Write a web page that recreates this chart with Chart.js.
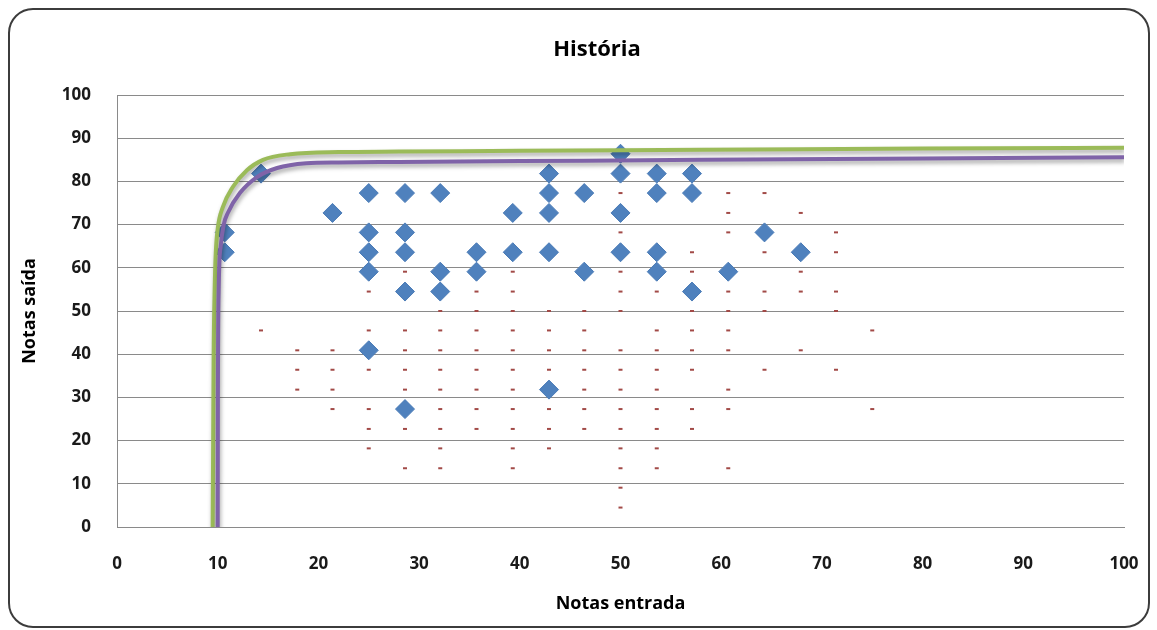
<!DOCTYPE html>
<html>
<head>
<meta charset="utf-8">
<title>História</title>
<script src="https://cdn.jsdelivr.net/npm/chart.js@4/dist/chart.umd.min.js"></script>
<style>
  body { margin: 0; background: #fff; }
  #container { width: 1157px; height: 630px; }
</style>
</head>
<body>
<div id="container"><canvas id="chart" width="1157" height="630"></canvas></div>
<script>
const chartTitle = 'História';

// blue diamonds (Notas entrada, Notas saída)
const diamondX = [10.7, 10.7, 14.3, 21.4, 25, 25, 25, 25, 25,
  28.6, 28.6, 28.6, 28.6, 28.6, 32.1, 32.1, 32.1, 35.7, 35.7,
  39.3, 39.3, 42.9, 42.9, 42.9, 42.9, 42.9, 46.4, 46.4,
  50, 50, 50, 50, 53.6, 53.6, 53.6, 53.6, 57.1, 57.1, 57.1,
  60.7, 64.3, 67.9];
const diamondY = [68.2, 63.6, 81.8, 72.7, 77.3, 68.2, 63.6, 59.1, 40.9,
  77.3, 68.2, 63.6, 54.5, 27.3, 77.3, 59.1, 54.5, 63.6, 59.1,
  72.7, 63.6, 81.8, 77.3, 72.7, 63.6, 31.8, 77.3, 59.1,
  86.4, 81.8, 72.7, 63.6, 81.8, 77.3, 63.6, 59.1, 81.8, 77.3, 54.5,
  59.1, 68.2, 63.6];

// small red dashes
const dashX = [14.3,
  17.9, 17.9, 17.9,
  21.4, 21.4, 21.4, 21.4,
  25, 25, 25, 25, 25, 25,
  28.6, 28.6, 28.6, 28.6, 28.6, 28.6, 28.6,
  32.1, 32.1, 32.1, 32.1, 32.1, 32.1, 32.1, 32.1, 32.1,
  35.7, 35.7, 35.7, 35.7, 35.7, 35.7, 35.7, 35.7,
  39.3, 39.3, 39.3, 39.3, 39.3, 39.3, 39.3, 39.3, 39.3, 39.3, 39.3,
  42.9, 42.9, 42.9, 42.9, 42.9, 42.9, 42.9,
  46.4, 46.4, 46.4, 46.4, 46.4, 46.4, 46.4,
  50, 50, 50, 50, 50, 50, 50, 50, 50, 50, 50, 50, 50, 50,
  53.6, 53.6, 53.6, 53.6, 53.6, 53.6, 53.6, 53.6, 53.6,
  57.1, 57.1, 57.1, 57.1, 57.1, 57.1, 57.1, 57.1,
  60.7, 60.7, 60.7, 60.7, 60.7, 60.7, 60.7, 60.7, 60.7, 60.7,
  64.3, 64.3, 64.3, 64.3, 64.3,
  67.9, 67.9, 67.9, 67.9,
  71.4, 71.4, 71.4, 71.4, 71.4,
  75, 75];
const dashY = [45.5,
  40.9, 36.4, 31.8,
  40.9, 36.4, 31.8, 27.3,
  54.5, 45.5, 36.4, 27.3, 22.7, 18.2,
  59.1, 45.5, 40.9, 36.4, 31.8, 22.7, 13.6,
  50, 45.5, 40.9, 36.4, 31.8, 27.3, 22.7, 18.2, 13.6,
  54.5, 50, 45.5, 40.9, 36.4, 31.8, 27.3, 22.7,
  59.1, 54.5, 50, 45.5, 40.9, 36.4, 31.8, 27.3, 22.7, 18.2, 13.6,
  50, 45.5, 40.9, 36.4, 27.3, 22.7, 18.2,
  50, 45.5, 40.9, 36.4, 31.8, 27.3, 22.7,
  77.3, 68.2, 59.1, 54.5, 50, 40.9, 36.4, 31.8, 27.3, 22.7, 18.2, 13.6, 9.1, 4.5,
  54.5, 45.5, 40.9, 36.4, 31.8, 27.3, 22.7, 18.2, 13.6,
  63.6, 59.1, 50, 45.5, 40.9, 36.4, 27.3, 22.7,
  77.3, 72.7, 68.2, 54.5, 50, 45.5, 40.9, 31.8, 27.3, 13.6,
  77.3, 63.6, 54.5, 50, 36.4,
  72.7, 59.1, 54.5, 40.9,
  68.2, 63.6, 54.5, 50, 36.4,
  45.5, 27.3];

// trend curves
const greenX = [9.5, 9.55, 9.6, 9.7, 9.8, 10.0, 10.5, 11.5, 12.9, 14.5, 17.2, 22, 28, 40, 58, 80, 100];
const greenY = [0, 20, 40, 55, 63, 69, 74, 78.7, 82.6, 85, 86.3, 86.8, 86.9, 87.1, 87.3, 87.6, 87.8];
const purpleX = [10.0, 10.02, 10.1, 10.3, 10.6, 11, 12.2, 13.9, 15.9, 18.8, 22, 28, 40, 58, 80, 100];
const purpleY = [0, 30, 55, 65, 70, 72.7, 77.3, 81, 83.1, 84.2, 84.4, 84.5, 84.7, 85.0, 85.3, 85.6];

const xTicks = [0, 10, 20, 30, 40, 50, 60, 70, 80, 90, 100];
const yTicks = [0, 10, 20, 30, 40, 50, 60, 70, 80, 90, 100];

const FONT = "'Open Sans', 'Noto Sans', sans-serif";

function toPoints(xs, ys) {
    return xs.map((x, i) => ({ x: x, y: ys[i] }));
}

// soft shadow under the two curves
const lineShadow = {
    id: 'lineShadow',
    beforeDatasetDraw(chart, args) {
        if (chart.data.datasets[args.index].showLine) {
            const ctx = chart.ctx;
            ctx.save();
            ctx.shadowColor = 'rgba(0,0,0,0.35)';
            ctx.shadowBlur = 4;
            ctx.shadowOffsetX = 1;
            ctx.shadowOffsetY = 3;
        }
    },
    afterDatasetDraw(chart, args) {
        if (chart.data.datasets[args.index].showLine) {
            chart.ctx.restore();
        }
    }
};

// white page, rounded frame and the title (Excel centres it off the plot)
const frame = {
    id: 'frame',
    beforeDraw(chart) {
        const ctx = chart.ctx;
        ctx.save();
        ctx.fillStyle = '#fff';
        ctx.fillRect(0, 0, chart.width, chart.height);
        ctx.restore();
    },
    afterDraw(chart) {
        const ctx = chart.ctx;
        const x0 = 9, y0 = 9, x1 = 1149, y1 = 627, r = 24;
        ctx.save();
        ctx.strokeStyle = '#3c3c3c';
        ctx.lineWidth = 2;
        ctx.beginPath();
        ctx.moveTo(x0 + r, y0);
        ctx.lineTo(x1 - r, y0);
        ctx.arcTo(x1, y0, x1, y0 + r, r);
        ctx.lineTo(x1, y1 - r);
        ctx.arcTo(x1, y1, x1 - r, y1, r);
        ctx.lineTo(x0 + r, y1);
        ctx.arcTo(x0, y1, x0, y1 - r, r);
        ctx.lineTo(x0, y0 + r);
        ctx.arcTo(x0, y0, x0 + r, y0, r);
        ctx.closePath();
        ctx.stroke();

        ctx.fillStyle = '#000';
        ctx.font = 'bold 22px ' + FONT;
        ctx.textAlign = 'center';
        ctx.textBaseline = 'middle';
        ctx.fillText(chartTitle, 597, 50);
        ctx.restore();
    }
};

const ctx = document.getElementById('chart').getContext('2d');
const chart = new Chart(ctx, {
    type: 'scatter',
    data: {
        datasets: [
            {
                label: 'purple',
                data: toPoints(purpleX, purpleY),
                showLine: true,
                borderColor: '#7f63a8',
                borderWidth: 4,
                pointRadius: 0,
                cubicInterpolationMode: 'monotone',
                fill: false
            },
            {
                label: 'green',
                data: toPoints(greenX, greenY),
                showLine: true,
                borderColor: '#9bbb59',
                borderWidth: 4,
                pointRadius: 0,
                cubicInterpolationMode: 'monotone',
                fill: false
            },
            {
                label: 'diamonds',
                data: toPoints(diamondX, diamondY),
                pointStyle: 'rectRot',
                pointRadius: 9.5,
                backgroundColor: '#4f81bd',
                borderColor: '#4a7bb7',
                borderWidth: 1
            },
            {
                label: 'dashes',
                data: toPoints(dashX, dashY),
                pointStyle: 'line',
                pointRadius: 2,
                borderColor: '#a24a47',
                borderWidth: 2
            }
        ]
    },
    options: {
        responsive: false,
        animation: false,
        layout: {
            padding: { left: 12, right: 33, top: 95, bottom: 0 }
        },
        plugins: {
            legend: { display: false },
            tooltip: { enabled: false },
            title: { display: false }
        },
        scales: {
            x: {
                type: 'linear',
                min: 0,
                max: 100,
                afterBuildTicks: (scale) => { scale.ticks = xTicks.map(v => ({ value: v })); },
                afterFit: (scale) => {
                    scale.height = 103;
                    scale.paddingLeft = 0;
                    scale.paddingRight = 0;
                },
                grid: { display: false, drawTicks: false },
                border: { display: true, color: '#8a8a8a', width: 1 },
                ticks: {
                    color: '#1a1a1a',
                    padding: 27,
                    maxRotation: 0,
                    font: { family: FONT, size: 17, weight: 'bold' }
                },
                title: {
                    display: true,
                    text: 'Notas entrada',
                    color: '#000',
                    font: { family: FONT, size: 18, weight: 'bold' },
                    padding: { top: 0, bottom: 15 }
                }
            },
            y: {
                type: 'linear',
                min: 0,
                max: 100,
                afterBuildTicks: (scale) => { scale.ticks = yTicks.map(v => ({ value: v })); },
                afterFit: (scale) => {
                    scale.width = 105;
                    scale.paddingTop = 0;
                    scale.paddingBottom = 0;
                },
                grid: { color: '#8a8a8a', lineWidth: 1, drawTicks: false },
                border: { display: true, color: '#8a8a8a', width: 1 },
                ticks: {
                    color: '#1a1a1a',
                    padding: 26,
                    font: { family: FONT, size: 17, weight: 'bold' }
                },
                title: {
                    display: true,
                    text: 'Notas saída',
                    color: '#000',
                    font: { family: FONT, size: 18, weight: 'bold' },
                    padding: { top: 7, bottom: 0 }
                }
            }
        }
    },
    plugins: [frame, lineShadow]
});
</script>
</body>
</html>
